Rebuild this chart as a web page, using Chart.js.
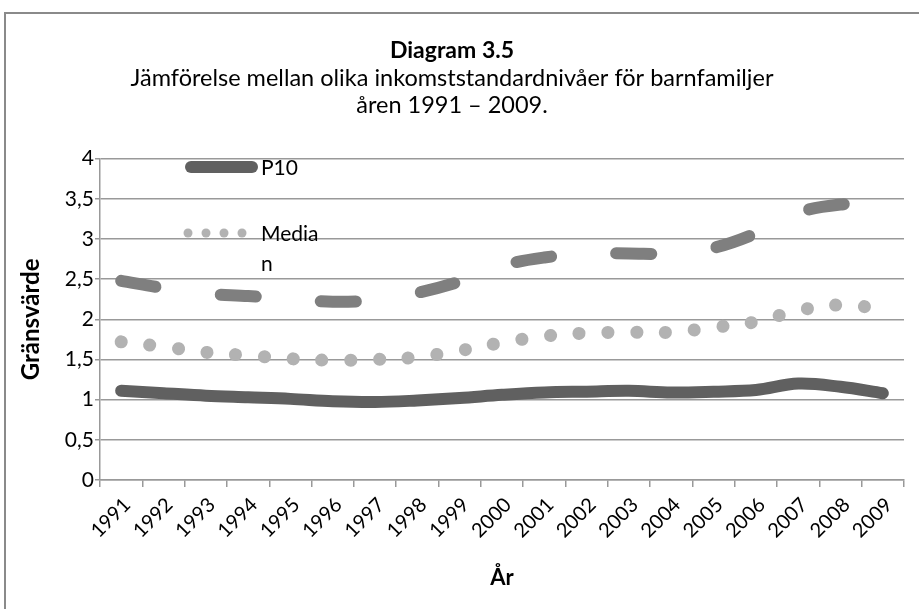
<!DOCTYPE html>
<html>
<head>
<meta charset="utf-8">
<script src="https://cdn.jsdelivr.net/npm/chart.js@4.4.1/dist/chart.umd.min.js"></script>
<style>
  html, body { margin: 0; padding: 0; background: #fff; }
  canvas { display: block; }
</style>
</head>
<body>
<canvas id="diagram" width="919" height="609"></canvas>
<script>
// data (Diagram 3.5)
const years = ['1991', '1992', '1993', '1994', '1995', '1996', '1997', '1998', '1999', '2000',
    '2001', '2002', '2003', '2004', '2005', '2006', '2007', '2008', '2009'];
const p10 = [1.11, 1.08, 1.05, 1.03, 1.01, 0.98, 0.97, 0.99, 1.02, 1.06,
    1.09, 1.10, 1.11, 1.09, 1.10, 1.12, 1.20, 1.16, 1.08];
const median = [1.72, 1.66, 1.59, 1.55, 1.51, 1.49, 1.50, 1.53, 1.61, 1.71,
    1.79, 1.83, 1.84, 1.84, 1.90, 1.97, 2.11, 2.18, 2.13];
const p90 = [2.48, 2.39, 2.32, 2.29, 2.25, 2.22, 2.24, 2.33, 2.47, 2.67,
    2.77, 2.82, 2.82, 2.82, 2.89, 3.07, 3.33, 3.43, 3.45];
const legendItems = [
    { lines: ['P10'], y: 167 },
    { lines: ['Media', 'n'], y: 233 }
];

const fontFamily = 'Lato, "Open Sans", sans-serif';
const gridColor = '#999999';

// frame round the chart + white background
const framePlugin = {
    id: 'frame',
    beforeDraw(chart) {
        const ctx = chart.ctx;
        ctx.save();
        ctx.fillStyle = '#fff';
        ctx.fillRect(0, 0, chart.width, chart.height);
        ctx.strokeStyle = '#8a8a8a';
        ctx.lineWidth = 2;
        ctx.strokeRect(5, 13, chart.width + 20, chart.height + 20);
        ctx.restore();
    }
};

// legend drawn inside the plot, like in the original
const insideLegend = {
    id: 'insideLegend',
    afterDatasetsDraw(chart) {
        const ctx = chart.ctx;
        ctx.save();
        // P10 sample
        ctx.strokeStyle = '#606060';
        ctx.lineWidth = 12;
        ctx.lineCap = 'round';
        ctx.beginPath();
        ctx.moveTo(191, legendItems[0].y);
        ctx.lineTo(252, legendItems[0].y);
        ctx.stroke();
        // Median sample
        ctx.fillStyle = '#b2b2b2';
        [188, 206, 224, 242].forEach(x => {
            ctx.beginPath();
            ctx.arc(x, legendItems[1].y, 4.5, 0, Math.PI * 2);
            ctx.fill();
        });
        ctx.fillStyle = '#000';
        ctx.font = '21px ' + fontFamily;
        ctx.textBaseline = 'middle';
        ctx.textAlign = 'left';
        legendItems.forEach(item => {
            item.lines.forEach((t, i) => ctx.fillText(t, 261, item.y + 1 + i * 30));
        });
        ctx.restore();
    }
};

const ctx = document.getElementById('diagram').getContext('2d');

const chart = new Chart(ctx, {
    type: 'line',
    data: {
        labels: years,
        datasets: [
            {
                label: 'P10',
                data: p10,
                borderColor: '#606060',
                borderWidth: 12,
                borderCapStyle: 'round',
                borderJoinStyle: 'round',
                pointRadius: 0,
                tension: 0.35
            },
            {
                label: 'Median',
                data: median,
                borderColor: '#b2b2b2',
                borderWidth: 13,
                borderDash: [0.1, 28.7],
                borderCapStyle: 'round',
                pointRadius: 0,
                tension: 0.35
            },
            {
                label: 'P90',
                data: p90,
                borderColor: '#7f7f7f',
                borderWidth: 12,
                borderDash: [35, 65.5],
                borderCapStyle: 'round',
                pointRadius: 0,
                tension: 0.35
            }
        ]
    },
    options: {
        responsive: false,
        animation: false,
        layout: {
            padding: { top: 0, left: 0, right: 15, bottom: 0 }
        },
        plugins: {
            legend: { display: false },
            tooltip: { enabled: false },
            title: {
                display: true,
                text: 'Diagram 3.5',
                color: '#000',
                font: { family: fontFamily, size: 23, weight: 'bold', lineHeight: 1.2 },
                padding: { top: 37, bottom: 1 }
            },
            subtitle: {
                display: true,
                text: ['Jämförelse mellan olika inkomststandardnivåer för barnfamiljer', 'åren 1991 – 2009.'],
                color: '#000',
                font: { family: fontFamily, size: 23.5, lineHeight: 1.13 },
                padding: { top: 0, bottom: 40 }
            }
        },
        scales: {
            x: {
                offset: true,
                grid: {
                    offset: true,
                    drawOnChartArea: false,
                    drawTicks: true,
                    tickLength: 7,
                    color: gridColor,
                    lineWidth: 1.5
                },
                border: { color: gridColor, width: 1.5 },
                ticks: {
                    color: '#000',
                    minRotation: 45,
                    maxRotation: 45,
                    autoSkip: false,
                    padding: 6,
                    labelOffset: 6,
                    font: { family: fontFamily, size: 20 }
                },
                title: {
                    display: true,
                    text: 'År',
                    color: '#000',
                    font: { family: fontFamily, size: 22, weight: 'bold', lineHeight: 1.2 },
                    padding: { top: 18, bottom: 18 }
                },
                afterFit(scale) { scale.height = 129; }
            },
            y: {
                min: 0,
                max: 4,
                grid: {
                    color: gridColor,
                    lineWidth: 1.5,
                    drawTicks: true,
                    tickLength: 5
                },
                border: { color: gridColor, width: 1.5 },
                ticks: {
                    stepSize: 0.5,
                    color: '#000',
                    padding: 1,
                    font: { family: fontFamily, size: 21 },
                    callback: v => String(v).replace('.', ',')
                },
                title: {
                    display: true,
                    text: 'Gränsvärde',
                    color: '#000',
                    font: { family: fontFamily, size: 24, weight: 'bold', lineHeight: 1.2 },
                    padding: { top: 17, bottom: 17 }
                },
                afterFit(scale) { scale.width = 100; }
            }
        }
    },
    plugins: [framePlugin, insideLegend]
});
</script>
</body>
</html>
